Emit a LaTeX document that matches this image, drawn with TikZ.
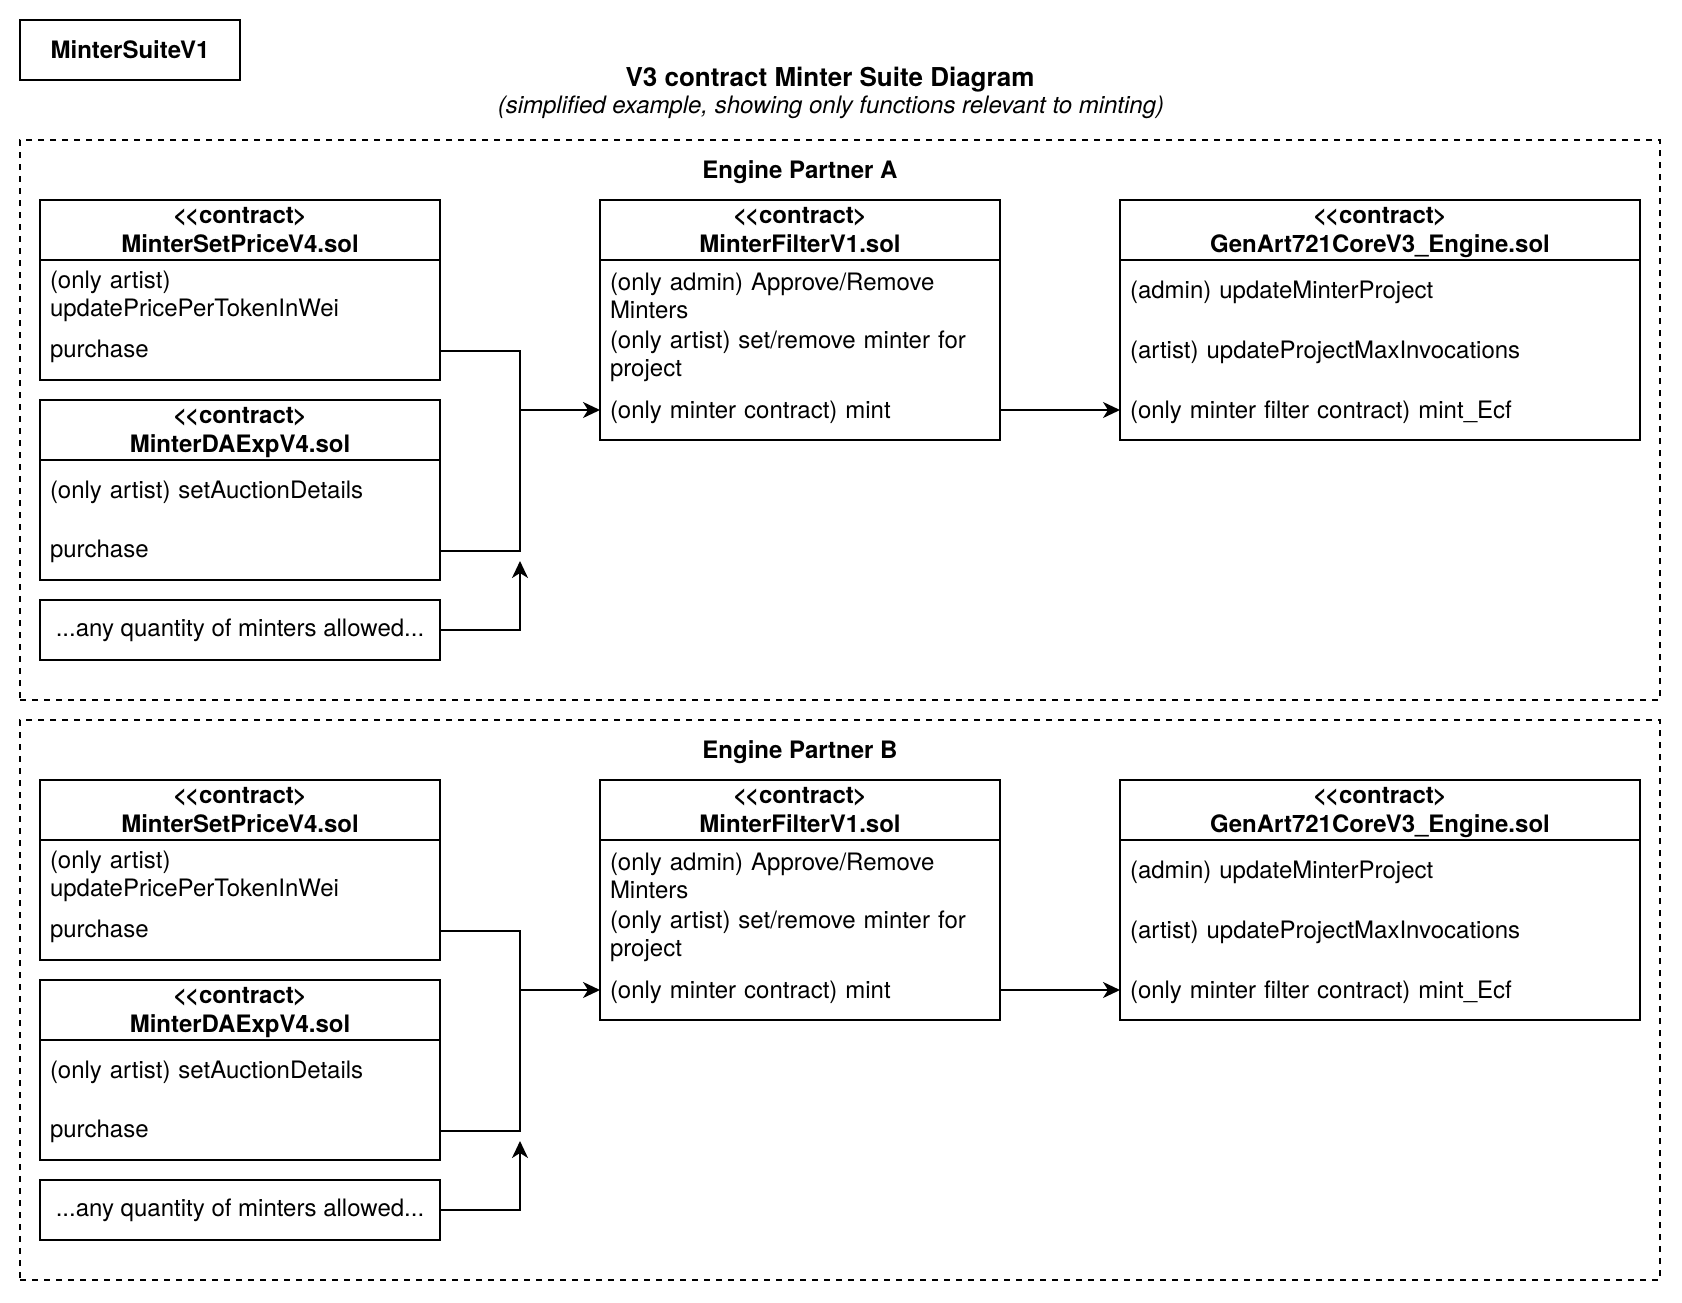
\documentclass[tikz,border=0pt]{standalone}
\usepackage{fontspec}
\setmainfont{TeX Gyre Heros}
\usetikzlibrary{positioning,arrows.meta}

% the kern keeps << from turning into a guillemet
\newcommand{\contractTag}{<\kern-2pt<contract\kern-1pt>}

\tikzset{
  classHead/.style={draw, line width=2pt, outer sep=0pt, inner sep=0pt, text depth=1pt,
    minimum height=60pt, align=center, font=\fontsize{24}{29}\selectfont\bfseries},
  classBody/.style={draw, line width=2pt, outer sep=0pt, inner sep=0pt},
  plainBox/.style={draw, line width=2pt, outer sep=0pt, inner sep=0pt,
    font=\fontsize{24}{29}\selectfont},
  grpBox/.style={draw, line width=2pt, dash pattern=on 6pt off 6pt, outer sep=0pt, inner sep=0pt},
  rowText/.style={anchor=west, inner xsep=10pt, inner ysep=0pt, outer sep=0pt,
    align=left, font=\fontsize{24}{28}\selectfont},
  rowL/.style={rowText, text width=380pt},
  rowW/.style={rowText, text width=500pt},
  wire/.style={line width=2pt},
  arrowWire/.style={wire, -{Stealth[length=17pt, width=16pt, inset=5pt]}}
}

\begin{document}
\begin{tikzpicture}[x=1pt,y=-1pt]
  \useasboundingbox (0,0) rectangle (1682,1302);

  % Header
  \node[plainBox, minimum width=220pt, minimum height=60pt, font=\fontsize{24}{29}\selectfont\bfseries] (suite) at (130,50) {MinterSuiteV1};
  \node[font=\fontsize{26}{30}\selectfont\bfseries] (title) at (830,80) {V3 contract Minter Suite Diagram};
  \node[font=\fontsize{24}{28}\selectfont\itshape] (subtitle) at (831,107) {(simplified example, showing only functions relevant to minting)};

  % one frame per engine partner, B sits 580 below A
  \foreach \g/\dy in {A/0,B/580}{
    \begin{scope}[yshift=-\dy pt]
      \node[grpBox, minimum width=1640pt, minimum height=560pt] (grp\g) at (840,420) {};
      \node[font=\fontsize{24}{28}\selectfont\bfseries] (grpLbl\g) at (800,172) {Engine Partner \g};

      % Minters
      \node[classHead, minimum width=400pt] (spH\g) at (240,230) {\contractTag\\MinterSetPriceV4.sol};
      \node[classBody, minimum width=400pt, minimum height=120pt, below=0pt of spH\g] (spB\g) {};
      \node[rowL] (spR\g) at (40,296) {(only artist)\\updatePricePerTokenInWei};
      \node[rowL] (spP\g) at (40,351) {purchase};

      \node[classHead, minimum width=400pt] (daH\g) at (240,430) {\contractTag\\MinterDAExpV4.sol};
      \node[classBody, minimum width=400pt, minimum height=120pt, below=0pt of daH\g] (daB\g) {};
      \node[rowL] (daR\g) at (40,492) {(only artist) setAuctionDetails};
      \node[rowL] (daP\g) at (40,551) {purchase};

      \node[plainBox, minimum width=400pt, minimum height=60pt] (any\g) at (240,630) {...any quantity of minters allowed...};

      % Minter filter
      \node[classHead, minimum width=400pt] (mfH\g) at (800,230) {\contractTag\\MinterFilterV1.sol};
      \node[classBody, minimum width=400pt, minimum height=180pt, below=0pt of mfH\g] (mfB\g) {};
      \node[rowL] (mfR\g) at (600,296) {(only admin) Approve/Remove\\Minters};
      \node[rowL] (mfS\g) at (600,356) {(only artist) set/remove minter for\\project};
      \node[rowL] (mfM\g) at (600,412) {(only minter contract) mint};

      % Core contract
      \node[classHead, minimum width=520pt] (gaH\g) at (1380,230) {\contractTag\\GenArt721CoreV3\_Engine.sol};
      \node[classBody, minimum width=520pt, minimum height=180pt, below=0pt of gaH\g] (gaB\g) {};
      \node[rowW] (gaR\g) at (1120,292) {(admin) updateMinterProject};
      \node[rowW] (gaI\g) at (1120,352) {(artist) updateProjectMaxInvocations};
      \node[rowW] (gaM\g) at (1120,412) {(only minter filter contract) mint\_Ecf};

      % Connectors
      \coordinate (jn\g) at (520,410);
      \coordinate (anyEnd\g) at (520,561);
      \draw[wire] (spP\g.east) -| (jn\g);
      \draw[wire] (daP\g.east) -| (jn\g);
      \draw[arrowWire] (jn\g) -- (mfB\g.west |- jn\g);
      \draw[arrowWire] (any\g.east) -| (anyEnd\g);
      \draw[arrowWire] (mfB\g.east |- jn\g) -- (gaB\g.west |- jn\g);
    \end{scope}
  }
\end{tikzpicture}
\end{document}
